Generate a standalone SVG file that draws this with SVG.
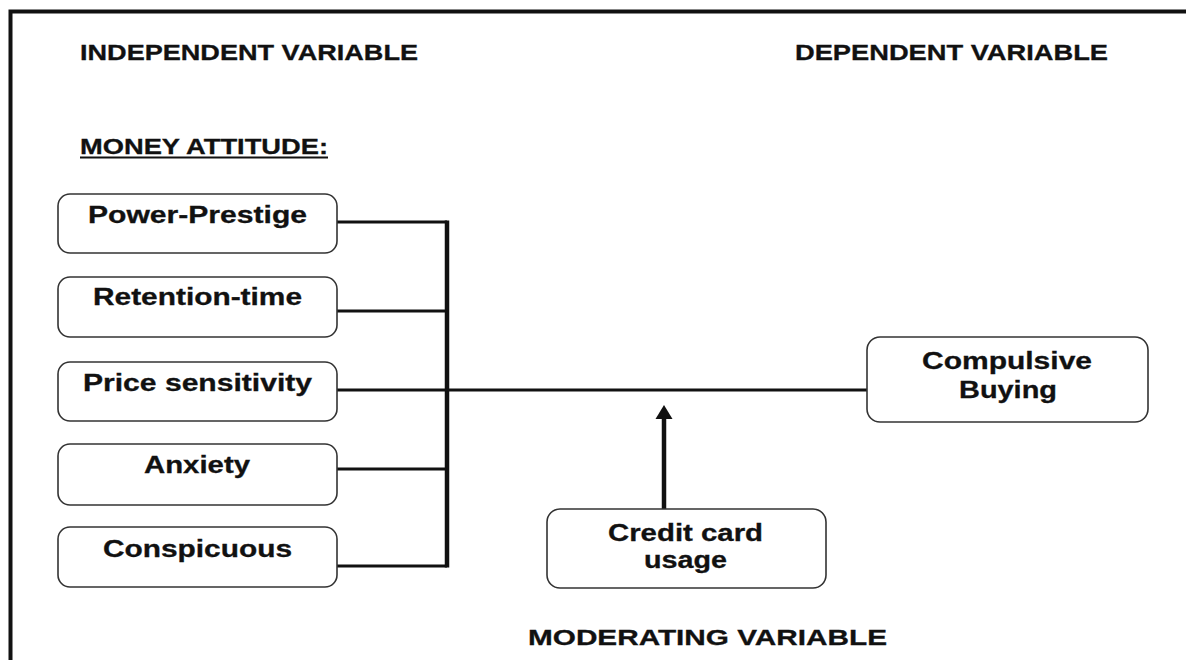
<svg xmlns="http://www.w3.org/2000/svg" width="1186" height="660" viewBox="0 0 1186 660">
  <style>
    .hdr { font-family: "Liberation Sans", Arial, sans-serif; font-weight: bold; font-size: 22px; fill: #111; stroke: #111; stroke-width: 0.3; }
    .lbl { font-family: "Liberation Sans", Arial, sans-serif; font-weight: bold; font-size: 23px; fill: #111; stroke: #111; stroke-width: 0.3; }
    .box { fill: #fff; stroke: #333; stroke-width: 1.6; }
    .wire { fill: none; stroke: #111; stroke-width: 3; }
    .bus { fill: none; stroke: #111; stroke-width: 4.5; }
  </style>

  <rect width="1186" height="660" fill="#fff"/>

  <!-- frame -->
  <path d="M10.5,660 L10.5,11.5 L1186,11.5" fill="none" stroke="#111" stroke-width="4"/>

  <!-- headings -->
  <text class="hdr" x="80" y="60" textLength="338" lengthAdjust="spacingAndGlyphs">INDEPENDENT VARIABLE</text>
  <text class="hdr" x="795" y="60" textLength="313" lengthAdjust="spacingAndGlyphs">DEPENDENT VARIABLE</text>
  <text class="hdr" x="80" y="154" textLength="248" lengthAdjust="spacingAndGlyphs">MONEY ATTITUDE:</text>
  <line x1="80" y1="157.5" x2="328" y2="157.5" stroke="#111" stroke-width="1.8"/>
  <text class="hdr" x="528" y="645" font-size="23" textLength="359" lengthAdjust="spacingAndGlyphs">MODERATING VARIABLE</text>

  <!-- connectors -->
  <g id="connectors">
    <path class="wire" d="M337,222 H447"/>
    <path class="wire" d="M337,311 H447"/>
    <path class="wire" d="M337,469 H447"/>
    <path class="wire" d="M337,566 H447"/>
    <path class="bus" d="M447,220.5 V567.5"/>
    <path class="wire" d="M337,390 H868"/>
    <path d="M664,509 V418" fill="none" stroke="#111" stroke-width="4.5"/>
    <path d="M655.5,419 L664,405 L672.5,419 Z" fill="#111"/>
  </g>

  <!-- independent variables -->
  <g id="power-prestige">
    <rect class="box" x="58" y="194" width="279" height="59" rx="12"/>
    <text class="lbl" x="88" y="223" textLength="219" lengthAdjust="spacingAndGlyphs">Power-Prestige</text>
  </g>
  <g id="retention-time">
    <rect class="box" x="58" y="277" width="279" height="60" rx="12"/>
    <text class="lbl" x="93" y="305" textLength="209" lengthAdjust="spacingAndGlyphs">Retention-time</text>
  </g>
  <g id="price-sensitivity">
    <rect class="box" x="58" y="362" width="279" height="59" rx="12"/>
    <text class="lbl" x="83" y="391" textLength="229" lengthAdjust="spacingAndGlyphs">Price sensitivity</text>
  </g>
  <g id="anxiety">
    <rect class="box" x="58" y="444" width="279" height="61" rx="12"/>
    <text class="lbl" x="144" y="473" textLength="106" lengthAdjust="spacingAndGlyphs">Anxiety</text>
  </g>
  <g id="conspicuous">
    <rect class="box" x="58" y="527" width="279" height="60" rx="12"/>
    <text class="lbl" x="103" y="557" textLength="189" lengthAdjust="spacingAndGlyphs">Conspicuous</text>
  </g>

  <!-- dependent variable -->
  <g id="compulsive-buying">
    <rect class="box" x="867" y="337" width="281" height="85" rx="13"/>
    <text class="lbl" x="922" y="369" textLength="170" lengthAdjust="spacingAndGlyphs">Compulsive</text>
    <text class="lbl" x="959" y="398" textLength="98" lengthAdjust="spacingAndGlyphs">Buying</text>
  </g>

  <!-- moderating variable -->
  <g id="credit-card-usage">
    <rect class="box" x="547" y="509" width="279" height="79" rx="13"/>
    <text class="lbl" x="608" y="541" textLength="155" lengthAdjust="spacingAndGlyphs">Credit card</text>
    <text class="lbl" x="644" y="568" textLength="83" lengthAdjust="spacingAndGlyphs">usage</text>
  </g>
</svg>
